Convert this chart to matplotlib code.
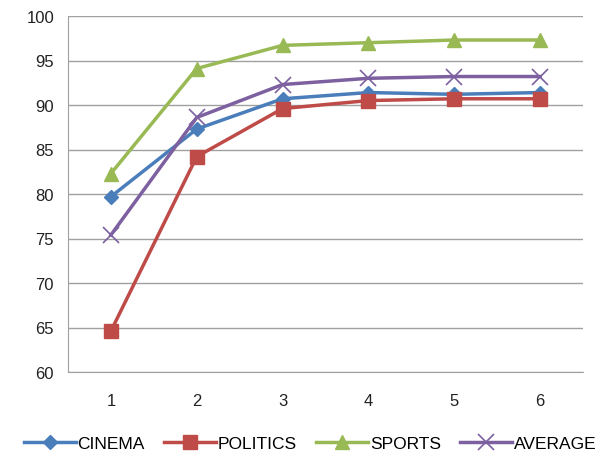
import matplotlib
matplotlib.use("Agg")
import matplotlib.pyplot as plt

# values
x_vals = [1, 2, 3, 4, 5, 6]
cinema = [79.7, 87.3, 90.7, 91.4, 91.2, 91.4]
politics = [64.6, 84.2, 89.6, 90.5, 90.7, 90.7]
sports = [82.3, 94.1, 96.7, 97.0, 97.3, 97.3]
average = [75.4, 88.6, 92.3, 93.0, 93.2, 93.2]
y_ticks = [60, 65, 70, 75, 80, 85, 90, 95, 100]

plt.rcParams['font.family'] = ['Liberation Sans', 'DejaVu Sans']

fig = plt.figure(figsize=(6.09, 4.52), dpi=100)
ax = fig.add_axes([68 / 609, 1 - 373 / 452, 515 / 609, 356 / 452])

ax.plot(x_vals, cinema, color='#4A7EBB', lw=2.5, marker='D', ms=7, label='CINEMA')
ax.plot(x_vals, politics, color='#BE4B48', lw=2.5, marker='s', ms=10, label='POLITICS')
ax.plot(x_vals, sports, color='#98B954', lw=2.5, marker='^', ms=10, label='SPORTS')
ax.plot(x_vals, average, color='#7D60A0', lw=2.5, marker='x', ms=11, mew=1.2, label='AVERAGE')

ax.set_xlim(0.5, 6.5)
ax.set_ylim(60, 100)
ax.set_yticks(y_ticks)
ax.set_xticks(x_vals)
ax.grid(axis='y', color='#A0A0A0', lw=1)
ax.set_axisbelow(True)
for s in ['top', 'right']:
    ax.spines[s].set_visible(False)
ax.spines['left'].set_color('#A0A0A0')
ax.spines['bottom'].set_color('#A0A0A0')
ax.tick_params(length=0, labelsize=12, colors='#222222', pad=10)
ax.tick_params(axis='x', pad=15)

ax.legend(loc='upper center', bbox_to_anchor=(0.47, -0.135), ncol=4, frameon=False,
          fontsize=12.5, handlelength=3.0, handletextpad=0.1, columnspacing=1.1)

fig.savefig('out.png', dpi=100)
